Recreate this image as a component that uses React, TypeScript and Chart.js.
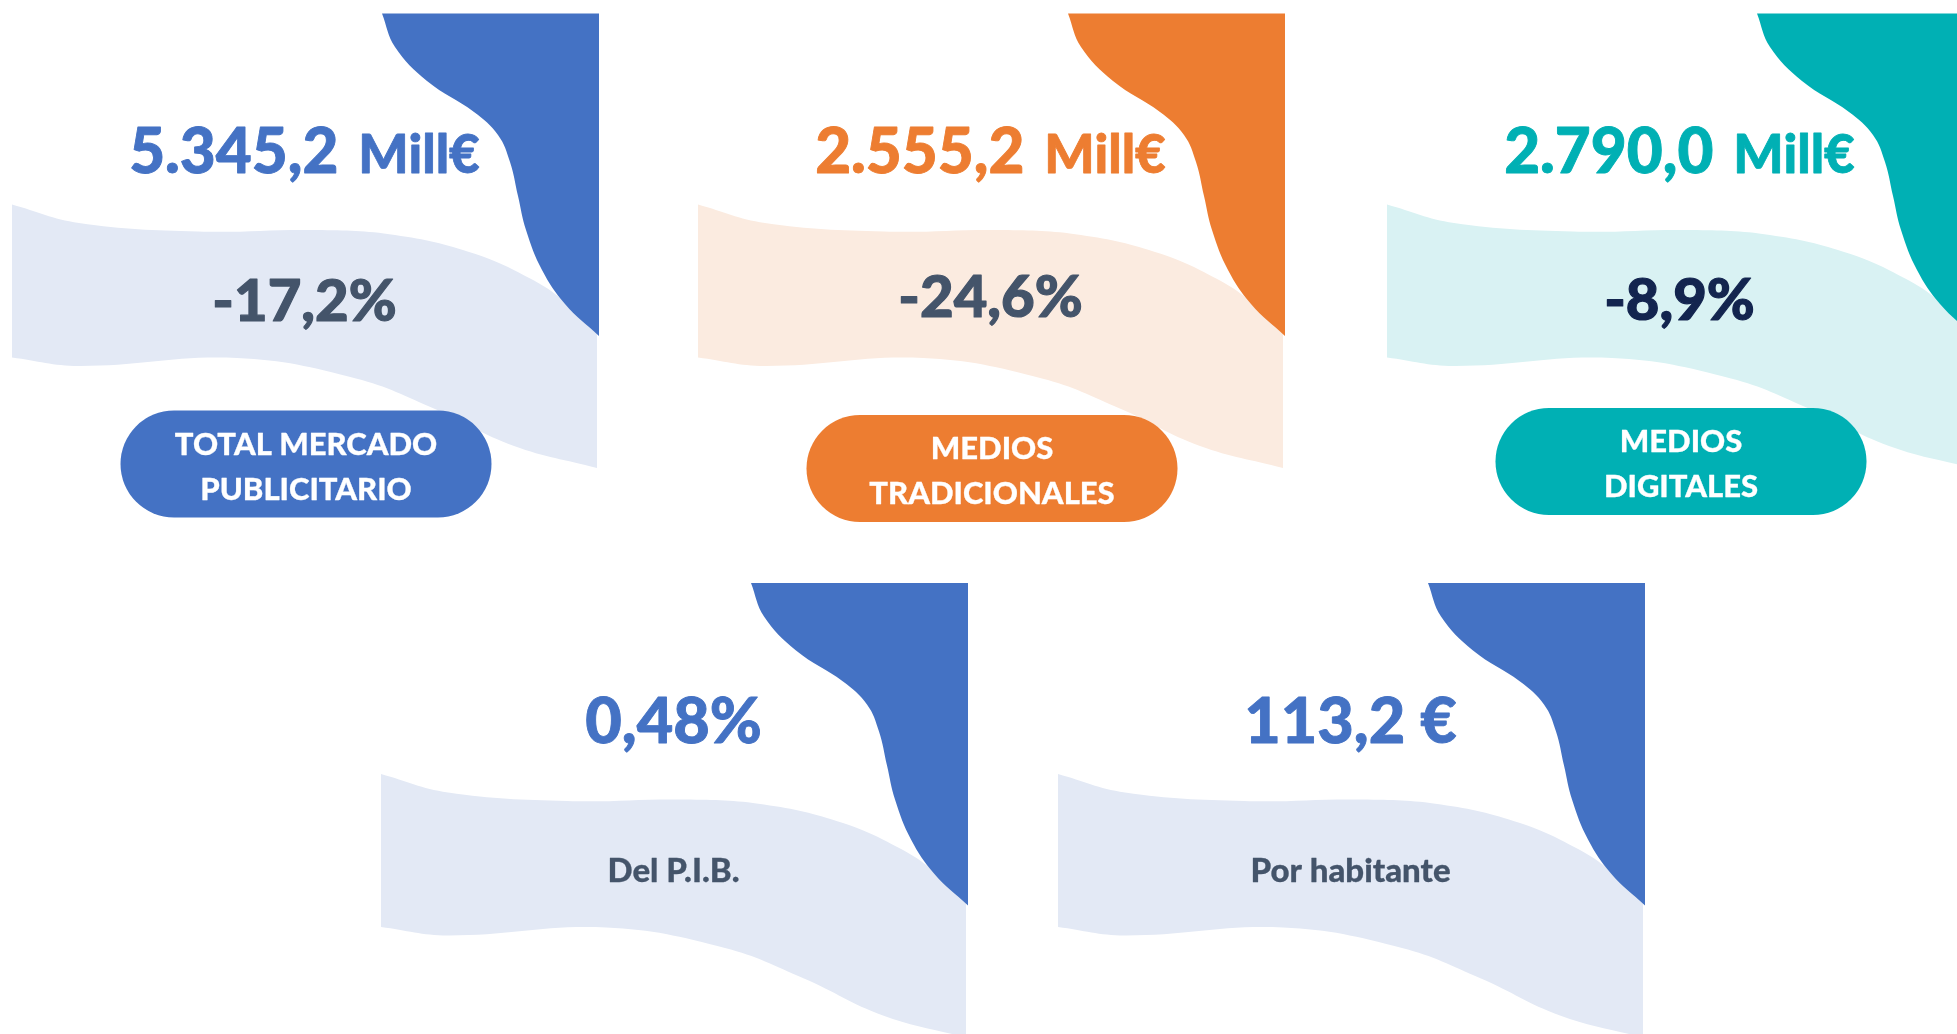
import React, { useEffect, useRef } from 'react';
import { Chart, registerables } from 'chart.js';

Chart.register(...registerables);

const W = 1957;
const H = 1034;

// ---------- data ----------
const segmentLabels: string[][] = [
  ['TOTAL MERCADO', 'PUBLICITARIO'],
  ['MEDIOS', 'TRADICIONALES'],
  ['MEDIOS', 'DIGITALES'],
];
const investmentMillEur = [5345.2, 2555.2, 2790.0];
const yoyChangePct = [-17.2, -24.6, -8.9];
const investmentUnit = 'Mill€';
const macroLabels = ['Del P.I.B.', 'Por habitante'];
const macroValues = [0.48, 113.2];
const macroDecimals = [2, 1];
const macroUnits = ['%', ' €'];

// ---------- styles ----------
const themes = [
  { main: '#4472C4', light: '#E3E9F5', pct: '#44546A' },
  { main: '#ED7D31', light: '#FBEBE0', pct: '#44546A' },
  { main: '#00B0B4', light: '#D9F2F3', pct: '#13254F' },
];
const macroTheme = { main: '#4472C4', light: '#E3E9F5', text: '#44546A' };
const FONT = 'Lato, "Open Sans", sans-serif';
const WEIGHT = '900';

// ---------- layout (panel origin = band left edge, blob top edge) ----------
const topOrigins: [number, number][] = [[12, 13.5], [698, 13.5], [1387, 13.5]];
const topPctDy = [0, -4.5, -1];
const topPillDy = [0, 4.5, -2.5];
const bottomOrigins: [number, number][] = [[381, 583], [1058, 583]];

// decorative shape templates (relative to panel origin); repeated points = sharp corners
const blobTemplate: [number, number][] = [
  [370, 0], [383, 33.5], [415, 67.5], [462, 98.5], [486, 121.5], [498, 148.5],
  [506, 182.5], [514, 216.5], [530, 256.5], [553, 290.5], [587, 322.5], [587, 322.5],
  [587, 0], [587, 0], [370, 0],
];
const bandTemplate: [number, number][] = [
  [0, 191], [67, 209.5], [186, 218], [304, 216.5], [383, 221.5], [462, 240],
  [522, 267], [557, 290.5], [585, 310.5], [585, 310.5], [585, 454.5], [585, 454.5],
  [502, 432.5], [423, 395.5], [344, 365], [225, 344.5], [67, 352.5], [0, 344], [0, 344], [0, 191],
];

function fmtEs(v: number, decimals: number): string {
  const neg = v < 0;
  const [intPart, dec] = Math.abs(v).toFixed(decimals).split('.');
  const grouped = intPart.replace(/\B(?=(\d{3})+(?!\d))/g, '.');
  return (neg ? '-' : '') + grouped + (dec !== undefined ? ',' + dec : '');
}

function place(tpl: [number, number][], ox: number, oy: number) {
  return tpl.map(([x, y]) => ({ x: ox + x, y: oy + y }));
}

function shapeDataset(points: { x: number; y: number }[], color: string, order: number) {
  return {
    data: points,
    fill: 'shape' as const,
    backgroundColor: color,
    borderColor: 'rgba(0,0,0,0)',
    borderWidth: 0,
    pointRadius: 0,
    tension: 0.4,
    order,
  };
}

function buildDatasets() {
  const ds: any[] = [];
  topOrigins.forEach(([ox, oy], i) => {
    ds.push(shapeDataset(place(bandTemplate, ox, oy), themes[i].light, 2));
    ds.push(shapeDataset(place(blobTemplate, ox, oy), themes[i].main, 1));
  });
  bottomOrigins.forEach(([ox, oy]) => {
    ds.push(shapeDataset(place(bandTemplate, ox, oy), macroTheme.light, 2));
    ds.push(shapeDataset(place(blobTemplate, ox, oy), macroTheme.main, 1));
  });
  return ds;
}

function heavyText(ctx: CanvasRenderingContext2D, text: string, x: number, y: number, color: string, weight: number) {
  ctx.fillStyle = color;
  ctx.strokeStyle = color;
  ctx.lineWidth = weight;
  ctx.lineJoin = 'round';
  ctx.fillText(text, x, y);
  if (weight > 0) ctx.strokeText(text, x, y);
}

const labelPlugin = {
  id: 'kpiLabels',
  afterDatasetsDraw(chart: any) {
    const ctx: CanvasRenderingContext2D = chart.ctx;
    const xs = chart.scales.x;
    const ys = chart.scales.y;
    const px = (v: number) => xs.getPixelForValue(v);
    const py = (v: number) => ys.getPixelForValue(v);
    ctx.save();
    ctx.textBaseline = 'alphabetic';

    topOrigins.forEach(([ox, oy], i) => {
      const th = themes[i];
      const cx = px(ox + 292.5);
      // big value + unit
      const val = fmtEs(investmentMillEur[i], 1);
      ctx.font = `${WEIGHT} 62px ${FONT}`;
      const w1 = ctx.measureText(val).width;
      ctx.font = `${WEIGHT} 53px ${FONT}`;
      const w2 = ctx.measureText(investmentUnit).width;
      const gap = 20;
      const start = cx - (w1 + gap + w2) / 2;
      const by = py(oy + 159.5);
      ctx.textAlign = 'left';
      ctx.font = `${WEIGHT} 62px ${FONT}`;
      heavyText(ctx, val, start, by, th.main, 0.9);
      ctx.font = `${WEIGHT} 53px ${FONT}`;
      heavyText(ctx, investmentUnit, start + w1 + gap, by, th.main, 0.8);
      // change pct
      ctx.textAlign = 'center';
      ctx.font = `${WEIGHT} 58px ${FONT}`;
      heavyText(ctx, fmtEs(yoyChangePct[i], 1) + '%', cx, py(oy + 307.5 + topPctDy[i]), th.pct, 1.2);
      // pill
      const pw = 371, ph = 107;
      const pcx = px(ox + 294);
      const top = py(oy + 397 + topPillDy[i]);
      ctx.fillStyle = th.main;
      ctx.beginPath();
      (ctx as any).roundRect(pcx - pw / 2, top, pw, ph, ph / 2);
      ctx.fill();
      ctx.font = `${WEIGHT} 31px ${FONT}`;
      segmentLabels[i].forEach((line, k) => {
        heavyText(ctx, line, pcx, top + 44 + k * 45, '#FFFFFF', 0.3);
      });
    });

    bottomOrigins.forEach(([ox, oy], i) => {
      const cx = px(ox + 292.5);
      ctx.textAlign = 'center';
      ctx.font = `${WEIGHT} 63px ${FONT}`;
      heavyText(ctx, fmtEs(macroValues[i], macroDecimals[i]) + macroUnits[i], cx, py(oy + 160), macroTheme.main, 0.9);
      ctx.font = `${WEIGHT} 33px ${FONT}`;
      heavyText(ctx, macroLabels[i], cx, py(oy + 298.5), macroTheme.text, 0.3);
    });
    ctx.restore();
  },
};

export default function App() {
  const ref = useRef<HTMLCanvasElement>(null);
  useEffect(() => {
    document.body.style.margin = '0';
    const chart = new Chart(ref.current as HTMLCanvasElement, {
      type: 'line',
      data: { datasets: buildDatasets() },
      options: {
        animation: false,
        responsive: false,
        devicePixelRatio: 1,
        events: [],
        layout: { padding: 0 },
        scales: {
          x: { type: 'linear', min: 0, max: W, display: false },
          y: { type: 'linear', min: 0, max: H, reverse: true, display: false },
        },
        elements: {
          point: { radius: 0 },
          line: { tension: 0.4, borderWidth: 0, capBezierPoints: false },
        },
        plugins: { legend: { display: false }, tooltip: { enabled: false } },
      } as any,
      plugins: [labelPlugin],
    });
    return () => chart.destroy();
  }, []);
  return (
    <div style={{ position: 'fixed', left: 0, top: 0, width: W, height: H, background: '#fff', overflow: 'hidden' }}>
      <canvas ref={ref} width={W} height={H} style={{ display: 'block', width: W, height: H }} />
    </div>
  );
}
